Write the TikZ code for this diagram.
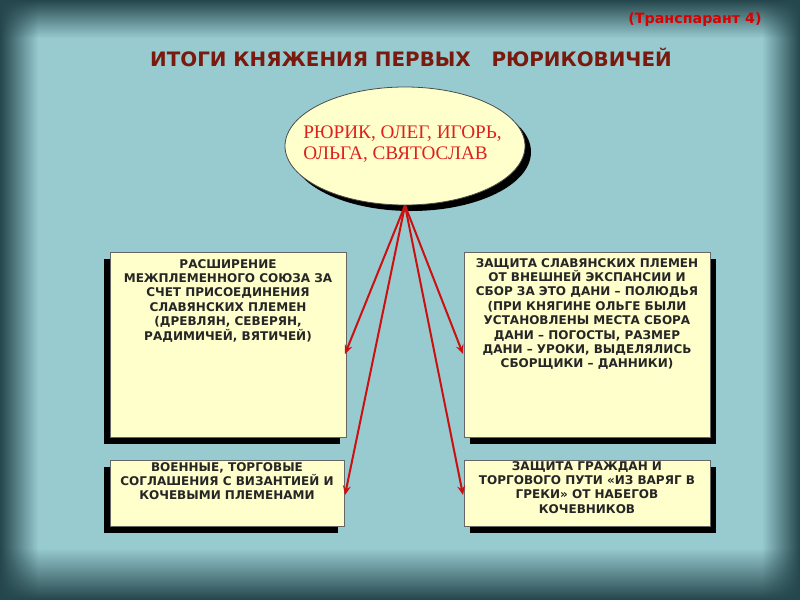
\documentclass[tikz,border=0pt]{standalone}
\usepackage{fontspec}
\setmainfont{DejaVu Sans}
\newfontfamily\serifru{Liberation Serif}
\usetikzlibrary{fadings,arrows.meta,shapes.geometric,shadows}
\definecolor{bg}{HTML}{97CBD0}
\definecolor{edgecol}{HTML}{24464C}
\definecolor{boxfill}{HTML}{FFFFCC}
\definecolor{titlered}{HTML}{7A1A0E}
\definecolor{arrowred}{HTML}{CC1010}
\definecolor{textred}{HTML}{E02020}
\tikzfading[name=fadedown, top color=transparent!0, bottom color=transparent!100]
\tikzfading[name=fadeup, top color=transparent!100, bottom color=transparent!0]
\tikzfading[name=faderight, left color=transparent!0, right color=transparent!100]
\tikzfading[name=fadeleft, left color=transparent!100, right color=transparent!0]
\tikzset{
  panel/.style={draw=black!60, fill=boxfill, line width=0.6pt, rectangle, inner sep=0pt},
  lshadow/.style={drop shadow={shadow xshift=-4.5pt, shadow yshift=-5.25pt, fill=black, opacity=1}},
  rshadow/.style={drop shadow={shadow xshift=4.5pt, shadow yshift=-5.25pt, fill=black, opacity=1}},
  paneltext/.style={font=\bfseries\fontsize{9}{10.8}\selectfont, text=black!85, align=center, inner sep=0pt, anchor=north},
  link/.style={draw=arrowred, line width=1.5pt, -{Stealth[length=7pt,width=6pt,inset=2.5pt]}}
}
\begin{document}
\begin{tikzpicture}[x=0.75pt,y=-0.75pt]
\useasboundingbox (0,0) rectangle (800,600);
% background with vignette
\fill[bg] (0,0) rectangle (800,600);
\fill[edgecol, path fading=fadedown] (0,0) rectangle (800,38);
\fill[edgecol, path fading=fadeup] (0,548) rectangle (800,600);
\fill[edgecol, path fading=faderight] (0,0) rectangle (38,600);
\fill[edgecol, path fading=fadeleft] (762,0) rectangle (800,600);

% headings
\node[font=\bfseries\fontsize{10.7}{12}\selectfont, text=red!85!black] (tag) at (695,20) {(Транспарант 4)};
\node[font=\bfseries\fontsize{14.9}{16}\selectfont, text=titlered] (title) at (411,57) {ИТОГИ КНЯЖЕНИЯ ПЕРВЫХ\ \ \ РЮРИКОВИЧЕЙ};

% central ellipse
\node[ellipse, draw=black!70, fill=boxfill, line width=0.6pt, minimum width=240*0.75pt, minimum height=118*0.75pt,
      drop shadow={shadow xshift=4.5pt, shadow yshift=-4.5pt, fill=black, opacity=1}] (ruler) at (405,146) {};
\node[anchor=north west, align=left, inner sep=0pt, text=textred, font=\serifru\fontsize{14.4}{15.75}\selectfont] (rulertext) at (303,126)
  {РЮРИК, ОЛЕГ, ИГОРЬ,\\ОЛЬГА, СВЯТОСЛАВ};

% panels
\node[panel, lshadow, minimum width=236*0.75pt, minimum height=185*0.75pt] (b1) at (228,344.5) {};
\node[panel, rshadow, minimum width=246*0.75pt, minimum height=185*0.75pt] (b2) at (587,344.5) {};
\node[panel, lshadow, minimum width=234*0.75pt, minimum height=66*0.75pt] (b3) at (227,493) {};
\node[panel, rshadow, minimum width=246*0.75pt, minimum height=66*0.75pt] (b4) at (587,493) {};

\node[paneltext] (t1) at (228,259) {РАСШИРЕНИЕ\\МЕЖПЛЕМЕННОГО СОЮЗА ЗА\\СЧЕТ ПРИСОЕДИНЕНИЯ\\СЛАВЯНСКИХ ПЛЕМЕН\\(ДРЕВЛЯН, СЕВЕРЯН,\\РАДИМИЧЕЙ, ВЯТИЧЕЙ)};
\node[paneltext] (t2) at (587,258) {ЗАЩИТА СЛАВЯНСКИХ ПЛЕМЕН\\ОТ ВНЕШНЕЙ ЭКСПАНСИИ И\\СБОР ЗА ЭТО ДАНИ – ПОЛЮДЬЯ\\(ПРИ КНЯГИНЕ ОЛЬГЕ БЫЛИ\\УСТАНОВЛЕНЫ МЕСТА СБОРА\\ДАНИ – ПОГОСТЫ, РАЗМЕР\\ДАНИ – УРОКИ, ВЫДЕЛЯЛИСЬ\\СБОРЩИКИ – ДАННИКИ)};
\node[paneltext] (t3) at (227,462) {ВОЕННЫЕ, ТОРГОВЫЕ\\СОГЛАШЕНИЯ С ВИЗАНТИЕЙ И\\КОЧЕВЫМИ ПЛЕМЕНАМИ};
\node[paneltext] (t4) at (587,461) {ЗАЩИТА ГРАЖДАН И\\ТОРГОВОГО ПУТИ «ИЗ ВАРЯГ В\\ГРЕКИ» ОТ НАБЕГОВ\\КОЧЕВНИКОВ};

% arrows
\coordinate (a1) at (345,354);
\coordinate (a2) at (463,354);
\coordinate (a3) at (345,495);
\coordinate (a4) at (463,495);
\draw[link] (ruler.south) -- (a1);
\draw[link] (ruler.south) -- (a2);
\draw[link] (ruler.south) -- (a3);
\draw[link] (ruler.south) -- (a4);
\end{tikzpicture}
\end{document}
